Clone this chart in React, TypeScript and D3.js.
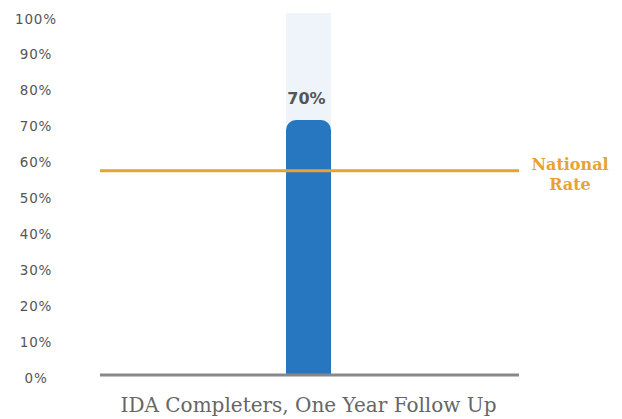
import React from 'react';
import * as d3 from 'd3';

// chart data
const categories = ['IDA Completers, One Year Follow Up'];
const values = [71];
const valueLabels = ['70%'];
const nationalRate = 57;
const yTicks = [0, 10, 20, 30, 40, 50, 60, 70, 80, 90, 100];

const W = 622;
const H = 419;

const App = () => {
  // y scale: 0% sits on the baseline, 100% near the top
  const y = d3.scaleLinear().domain([0, 100]).range([375, 16]);
  const x = d3.scaleBand().domain(categories).range([100, 518]).paddingInner(0).paddingOuter(0);

  const barW = 45;
  const r = 10;

  // bar with only the top corners rounded
  const barPath = (cx: number, v: number) => {
    const x0 = cx - barW / 2;
    const x1 = cx + barW / 2;
    const top = y(v);
    const bottom = y(0);
    const p = d3.path();
    p.moveTo(x0, bottom);
    p.lineTo(x0, top + r);
    p.arcTo(x0, top, x0 + r, top, r);
    p.lineTo(x1 - r, top);
    p.arcTo(x1, top, x1, top + r, r);
    p.lineTo(x1, bottom);
    p.closePath();
    return p.toString();
  };

  return (
    <svg
      width={W}
      height={H}
      style={{ position: 'absolute', left: 0, top: 0, background: '#fff' }}
    >
      {/* y tick labels */}
      <g fontFamily="DejaVu Sans" fontSize={13.5} fill="#555" textAnchor="middle" letterSpacing={0.8}>
        {yTicks.map(t => (
          <text key={t} x={36} y={y(t) + 3.5} dominantBaseline="middle">
            {t}%
          </text>
        ))}
      </g>

      {categories.map((c, i) => {
        const cx = (x(c) as number) + x.bandwidth() / 2 - 0.5;
        return (
          <g key={c}>
            {/* light background track */}
            <rect x={cx - barW / 2} y={y(100) - 3} width={barW} height={y(0) - y(100) + 3} fill="#eef4fa" />
            <path d={barPath(cx, values[i])} fill="#2677bf" />
            <text
              x={cx - 2}
              y={y(values[i]) - 16}
              textAnchor="middle"
              fontFamily="DejaVu Sans"
              fontWeight="bold"
              fontSize={16}
              fill="#555"
            >
              {valueLabels[i]}
            </text>
            <text
              x={cx}
              y={412}
              textAnchor="middle"
              fontFamily="DejaVu Serif"
              fontSize={20}
              fill="#666"
            >
              {c}
            </text>
          </g>
        );
      })}

      {/* baseline */}
      <line x1={100} x2={519} y1={y(0)} y2={y(0)} stroke="#888" strokeWidth={3} />

      {/* national rate reference line */}
      <line x1={100} x2={519} y1={y(nationalRate) + 0.5} y2={y(nationalRate) + 0.5} stroke="#e9a232" strokeWidth={3} />
      <g fontFamily="DejaVu Serif" fontWeight="bold" fontSize={16} fill="#e9a232" textAnchor="middle">
        <text x={570} y={170}>National</text>
        <text x={570} y={190}>Rate</text>
      </g>
    </svg>
  );
};

export default App;
